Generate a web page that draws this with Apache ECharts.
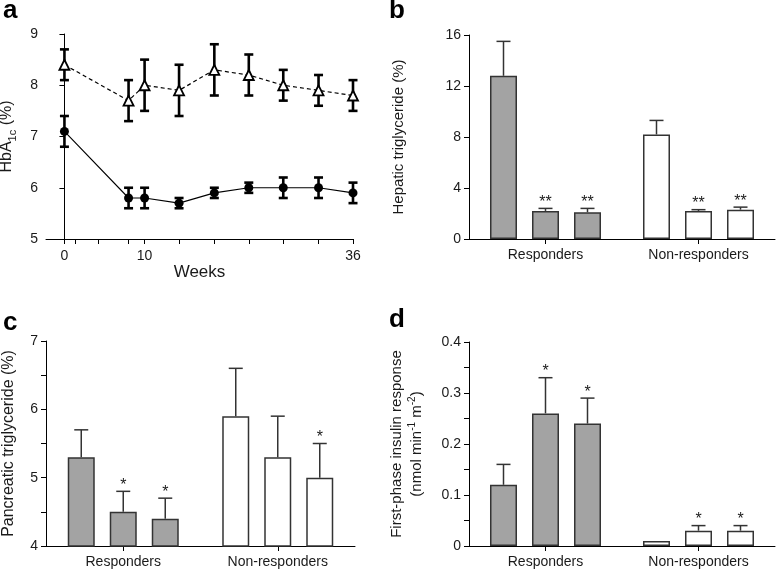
<!DOCTYPE html>
<html><head><meta charset="utf-8">
<script src="https://cdn.jsdelivr.net/npm/echarts@6/dist/echarts.min.js"></script>
<style>html,body{margin:0;padding:0;background:#fff}#c{width:777px;height:569px}</style>
</head><body><div id="c"></div>
<script>
// ---- Panel a: HbA1c over time ----
const weeks = [0, 8, 10, 14.3, 18.7, 23, 27.3, 31.7, 36];
const nonRespHbA1c = [8.4, 7.7, 8.0, 7.9, 8.3, 8.2, 8.0, 7.9, 7.8];
const nonRespHbA1cSE = [0.3, 0.4, 0.5, 0.5, 0.5, 0.4, 0.3, 0.3, 0.3];
const respHbA1c = [7.1, 5.8, 5.8, 5.7, 5.9, 6.0, 6.0, 6.0, 5.9];
const respHbA1cSE = [0.3, 0.2, 0.2, 0.1, 0.1, 0.1, 0.2, 0.2, 0.2];
const weekTicks = [0, 1.3, 4.2, 8, 10, 14.3, 18.7, 23, 27.3, 31.7, 36];
const weekLabels = [0, 10, 36];

// ---- Bar panels: groups and three time points ----
const groups = ['Responders', 'Non-responders'];
// b: hepatic triglyceride (%)
const hepBase = [12.8, 8.2], hepBaseSE = [2.7, 1.1];
const hepT1 = [2.2, 2.2], hepT1SE = [0.2, 0.1], hepT1Stars = ['**', '**'];
const hepT2 = [2.1, 2.3], hepT2SE = [0.3, 0.2], hepT2Stars = ['**', '**'];
// c: pancreatic triglyceride (%)
const panBase = [5.3, 5.9], panBaseSE = [0.4, 0.7];
const panT1 = [4.5, 5.3], panT1SE = [0.3, 0.6], panT1Stars = ['*', ''];
const panT2 = [4.4, 5.0], panT2SE = [0.3, 0.5], panT2Stars = ['*', '*'];
// d: first-phase insulin response
const insBase = [0.12, 0.01], insBaseSE = [0.04, 0];
const insT1 = [0.26, 0.03], insT1SE = [0.07, 0.01], insT1Stars = ['*', '*'];
const insT2 = [0.24, 0.03], insT2SE = [0.05, 0.01], insT2Stars = ['*', '*'];

const FONT = "'Liberation Sans', Arial, sans-serif";
const INK = '#1a1a1a';
const GRAY = '#a3a3a3';
const BAR_W = 27, BAR_GAP = 15;

const chart = echarts.init(document.getElementById('c'), null, {renderer: 'canvas'});

function seg(x1, y1, x2, y2, w, c) {
  return {type: 'line', shape: {x1, y1, x2, y2}, style: {stroke: c, lineWidth: w}};
}

function lineErr(gi, xs, means, ses) {
  return {
    type: 'custom', xAxisIndex: gi, yAxisIndex: gi, z: 1, silent: true,
    data: means.map((m, i) => [xs[i], m, ses[i]]),
    encode: {x: 0, y: 1},
    renderItem: (params, api) => {
      const x = api.value(0), m = api.value(1), e = api.value(2);
      const lo = api.coord([x, m - e]), hi = api.coord([x, m + e]);
      const hw = 4.5;
      return {type: 'group', children: [
        seg(lo[0], lo[1], hi[0], hi[1], 2.6, '#000'),
        seg(lo[0] - hw, lo[1], lo[0] + hw, lo[1], 2.6, '#000'),
        seg(hi[0] - hw, hi[1], hi[0] + hw, hi[1], 2.6, '#000')
      ]};
    }
  };
}

function barSeries(gi, means) {
  return {
    type: 'bar', xAxisIndex: gi, yAxisIndex: gi, barWidth: BAR_W,
    barGap: (BAR_GAP / BAR_W * 100).toFixed(2) + '%', silent: true, z: 2,
    data: means.map((v, i) => ({value: v, itemStyle: {color: i === 0 ? GRAY : '#fff'}})),
    itemStyle: {borderColor: '#333', borderWidth: 1.5}
  };
}

function barErr(gi, k, means, ses, stars) {
  return {
    type: 'custom', xAxisIndex: gi, yAxisIndex: gi, z: 3, silent: true,
    data: means.map((m, i) => [i, m, ses[i]]),
    encode: {x: 0, y: 1},
    renderItem: (params, api) => {
      const i = api.value(0), m = api.value(1), e = api.value(2);
      const off = (k - 1) * (BAR_W + BAR_GAP);
      const b = api.coord([i, m]), t = api.coord([i, m + e]);
      const x = b[0] + off;
      const ch = [];
      if (e > 0) {
        ch.push(seg(x, b[1], x, t[1], 1.5, '#333'));
        ch.push(seg(x - 7, t[1], x + 7, t[1], 1.5, '#333'));
      }
      const s = stars ? stars[params.dataIndex] : '';
      if (s) ch.push({type: 'text', style: {text: s, x: x, y: t[1] - 6, align: 'center',
        verticalAlign: 'middle', fontSize: 16, fontFamily: FONT, fill: INK}});
      return {type: 'group', children: ch};
    }
  };
}

const axisLine = {show: true, lineStyle: {color: '#000', width: 1}};
const tick = {show: true, length: 5, lineStyle: {color: '#000', width: 1}};
const lbl = {fontSize: 14, fontFamily: FONT, color: INK};

function catAxis(gi) {
  return {type: 'category', gridIndex: gi, data: groups, axisLine,
    axisTick: Object.assign({alignWithLabel: true}, tick),
    axisLabel: Object.assign({margin: 9, interval: 0}, lbl), splitLine: {show: false}};
}

function valY(gi, min, max, interval, name, gap, fs, fmt, rich) {
  return {type: 'value', gridIndex: gi, min, max, interval, axisLine, axisTick: tick,
    axisLabel: Object.assign({margin: 8, formatter: fmt, showMinLabel: true, showMaxLabel: true}, lbl),
    splitLine: {show: false},
    name, nameLocation: 'middle', nameRotate: 90, nameGap: gap,
    nameTextStyle: {fontSize: fs, fontFamily: FONT, color: INK, rich: rich}};
}

const titleStyle = {fontSize: 26, fontWeight: 'bold', fontFamily: FONT, color: '#000'};

const option = {
  animation: false,
  backgroundColor: '#fff',
  title: [
    {text: 'a', left: 3, top: -2, padding: 0, textStyle: titleStyle},
    {text: 'b', left: 389, top: -2, padding: 0, textStyle: titleStyle},
    {text: 'c', left: 3, top: 310, padding: 0, textStyle: titleStyle},
    {text: 'd', left: 389, top: 307, padding: 0, textStyle: titleStyle}
  ],
  grid: [
    {left: 46, top: 34, width: 307, height: 205, outerBoundsMode: 'none'},
    {left: 469, top: 35, width: 306, height: 204, outerBoundsMode: 'none'},
    {left: 46, top: 341, width: 309, height: 205, outerBoundsMode: 'none'},
    {left: 469, top: 342, width: 306, height: 204, outerBoundsMode: 'none'}
  ],
  xAxis: [
    {type: 'value', gridIndex: 0, min: -2.3, max: 36, axisLine,
      axisTick: Object.assign({customValues: weekTicks}, tick),
      axisLabel: Object.assign({customValues: weekLabels, margin: 10}, lbl),
      splitLine: {show: false},
      name: 'Weeks', nameLocation: 'middle', nameGap: 25,
      nameTextStyle: {fontSize: 17, fontFamily: FONT, color: INK}},
    catAxis(1), catAxis(2), catAxis(3)
  ],
  yAxis: [
    valY(0, 5, 9, 1, '{n|HbA}{s|1c}{n| (%)}', 28, 16, null,
      {n: {fontSize: 16, fontFamily: FONT, color: INK, lineHeight: 22},
       s: {fontSize: 11, fontFamily: FONT, color: INK, verticalAlign: 'bottom', lineHeight: 22}}),
    valY(1, 0, 16, 4, 'Hepatic triglyceride (%)', 63, 15, null),
    valY(2, 4, 7, 0.5, 'Pancreatic triglyceride (%)', 29, 16,
      v => Math.abs(v - Math.round(v)) < 1e-6 ? String(Math.round(v)) : ''),
    valY(3, 0, 0.4, 0.05,
      '{n|First-phase insulin response}\n{n|(nmol min}{p|-1}{n| m}{p|-2}{n|)}', 42, 15,
      v => { const r = Math.round(v * 100); return r % 10 === 0 ? (r === 0 ? '0' : (r / 100).toFixed(1)) : ''; },
      {n: {fontSize: 15, fontFamily: FONT, color: INK, lineHeight: 20},
       p: {fontSize: 10, fontFamily: FONT, color: INK, verticalAlign: 'top', lineHeight: 20}})
  ],
  series: [
    lineErr(0, weeks, nonRespHbA1c, nonRespHbA1cSE),
    lineErr(0, weeks, respHbA1c, respHbA1cSE),
    {type: 'line', xAxisIndex: 0, yAxisIndex: 0, z: 4, silent: true,
      data: weeks.map((w, i) => [w, nonRespHbA1c[i]]),
      symbol: 'triangle', symbolSize: 10,
      itemStyle: {color: '#fff', borderColor: '#000', borderWidth: 1.8},
      lineStyle: {color: '#000', width: 1.2, type: [4, 3]}},
    {type: 'line', xAxisIndex: 0, yAxisIndex: 0, z: 4, silent: true,
      data: weeks.map((w, i) => [w, respHbA1c[i]]),
      symbol: 'circle', symbolSize: 9,
      itemStyle: {color: '#000', borderColor: '#000', borderWidth: 0},
      lineStyle: {color: '#000', width: 1.1}},

    barSeries(1, hepBase), barSeries(1, hepT1), barSeries(1, hepT2),
    barErr(1, 0, hepBase, hepBaseSE, null), barErr(1, 1, hepT1, hepT1SE, hepT1Stars), barErr(1, 2, hepT2, hepT2SE, hepT2Stars),

    barSeries(2, panBase), barSeries(2, panT1), barSeries(2, panT2),
    barErr(2, 0, panBase, panBaseSE, null), barErr(2, 1, panT1, panT1SE, panT1Stars), barErr(2, 2, panT2, panT2SE, panT2Stars),

    barSeries(3, insBase), barSeries(3, insT1), barSeries(3, insT2),
    barErr(3, 0, insBase, insBaseSE, null), barErr(3, 1, insT1, insT1SE, insT1Stars), barErr(3, 2, insT2, insT2SE, insT2Stars)
  ]
};
chart.setOption(option);
</script></body></html>
